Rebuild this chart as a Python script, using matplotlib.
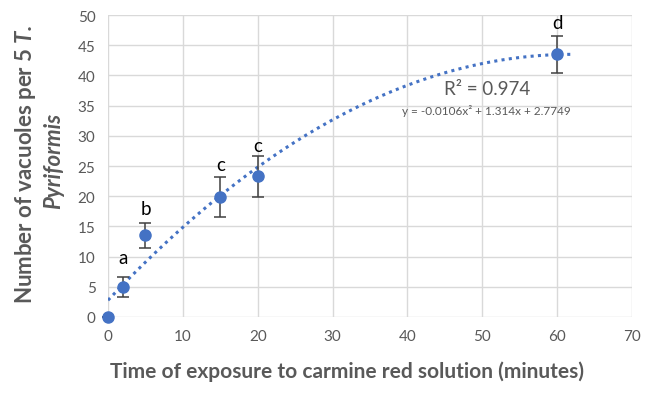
import numpy as np
import matplotlib
matplotlib.use("Agg")
import matplotlib.pyplot as plt

plt.rcParams['font.family'] = ['Lato', 'DejaVu Sans']
plt.rcParams['mathtext.fontset'] = 'custom'
plt.rcParams['mathtext.bfit'] = 'Lato:bold:italic'
plt.rcParams['mathtext.it'] = 'Lato:italic'
plt.rcParams['mathtext.rm'] = 'Lato'

time_min = [0, 2, 5, 15, 20, 60]
vacuoles = [0, 5.0, 13.5, 19.9, 23.3, 43.5]
errors = [0, 1.7, 2.1, 3.3, 3.4, 3.1]
letters = ['', 'a', 'b', 'c', 'c', 'd']
letter_y = [None, 9.8, 18.0, 25.3, 28.4, 48.8]
poly_coef = [-0.0106, 1.314, 2.7749]
trend_end = 62
x_ticks = [0, 10, 20, 30, 40, 50, 60, 70]
y_ticks = [0, 5, 10, 15, 20, 25, 30, 35, 40, 45, 50]

gray = '#595959'
blue = '#4472C4'

fig = plt.figure(figsize=(6.49, 4.02), dpi=100)
ax = fig.add_axes([0.1664, 0.209, 0.8074, 0.751])

xs = np.linspace(0, trend_end, 200)
ax.plot(xs, np.polyval(poly_coef, xs), linestyle=(0, (1, 1.4)), color=blue,
        linewidth=2.2, zorder=2)
ax.errorbar(time_min, vacuoles, yerr=errors, fmt='o', color=blue, markersize=8,
            ecolor='#404040', elinewidth=1.1, capsize=4, capthick=1.1, zorder=3,
            clip_on=False)

for x, ly, t in zip(time_min, letter_y, letters):
    if t:
        ax.text(x, ly, t, ha='center', va='center', fontsize=13.5, color='black')

ax.text(50.6, 37.8, 'R² = 0.974', ha='center', va='center', fontsize=13.5, color=gray)
ax.text(50.6, 34.3, 'y = -0.0106x² + 1.314x + 2.7749', ha='center', va='center',
        fontsize=8.5, color=gray)

ax.set_xlim(0, 70)
ax.set_ylim(0, 50)
ax.set_xticks(x_ticks)
ax.set_yticks(y_ticks)
ax.grid(True, color='#d9d9d9', linewidth=1)
ax.set_axisbelow(True)
for s in ax.spines.values():
    s.set_visible(False)
ax.tick_params(length=0, labelsize=11, labelcolor=gray, pad=9)

fig.text(347 / 649, 1 - 372 / 402, 'Time of exposure to carmine red solution (minutes)',
         ha='center', va='center', fontsize=15, fontweight='bold', color=gray)

fig.text(0.039, 0.59, r'Number of vacuoles per 5 $\mathbfit{T.}$', rotation=90,
         ha='center', va='center', fontsize=16, fontweight='bold', color=gray)
fig.text(0.083, 0.60, 'Pyriformis', rotation=90, ha='center', va='center',
         fontsize=16, fontweight='bold', style='italic', color=gray)

fig.savefig('out.png', dpi=100)
